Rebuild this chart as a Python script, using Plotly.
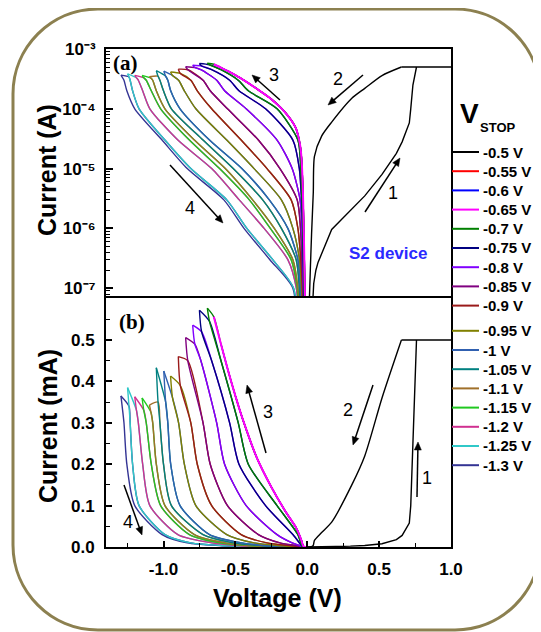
import math
import plotly.graph_objects as go

# browser page has an 8 px body margin: the figure is drawn 8 px right/down
OFF = 8
FW, FH = 541 - OFF, 632 - OFF

# ---------------- data ----------------
LEGEND_LABELS = ["-0.5 V", "-0.55 V", "-0.6 V", "-0.65 V", "-0.7 V", "-0.75 V", "-0.8 V",
                 "-0.85 V", "-0.9 V", "-0.95 V", "-1 V", "-1.05 V", "-1.1 V", "-1.15 V",
                 "-1.2 V", "-1.25 V", "-1.3 V"]
V_STOP = [-0.5, -0.55, -0.6, -0.65, -0.7, -0.75, -0.8, -0.85, -0.9, -0.95, -1.0,
          -1.05, -1.1, -1.15, -1.2, -1.25, -1.3]
COLORS = ["#000000", "#ff0000", "#0000ff", "#ff00ff", "#008000", "#000080", "#8000ff",
          "#800080", "#9a1a1a", "#808000", "#3060b0", "#008080", "#a0702a", "#20c820",
          "#d03090", "#30c8c8", "#343494"]

# low-resistance path (no reset yet), current in mA
LRS_V = [0.0, -0.015, -0.022, -0.03, -0.04, -0.05, -0.08, -0.15, -0.25, -0.35, -0.45,
         -0.5, -0.55, -0.6, -0.65]
LRS_I = [1e-6, 5e-5, 5e-4, 0.004, 0.015, 0.025, 0.048, 0.085, 0.145, 0.215, 0.31,
         0.365, 0.425, 0.49, 0.556]

# positive sweep of the first cycle, mA: set branch (1) with compliance, then branch (2)
SET_V = [0.0, 0.035, 0.045, 0.06, 0.075, 0.17, 0.30, 0.40, 0.52, 0.62, 0.66, 0.71, 0.72,
         0.735, 0.76, 1.0, 0.655]
SET_I = [1e-6, 5e-5, 1.2e-4, 2e-4, 2.7e-4, 9.6e-4, 0.002, 0.0035, 0.008, 0.018, 0.028,
         0.058, 0.10, 0.25, 0.5, 0.5, 0.5]
BR2_V = [0.655, 0.52, 0.40, 0.31, 0.17, 0.10, 0.05, 0.042, 0.03, 0.016, 0.008, 0.0]
BR2_I = [0.5, 0.36, 0.22, 0.15, 0.06, 0.035, 0.016, 0.004, 8e-4, 8e-5, 1e-5, 1e-6]

# reset sweeps -0.7 ... -1.3 V: peak, first point after reset, return branch
PEAK_V = [-0.695, -0.75, -0.797, -0.846, -0.897, -0.951, -0.998, -1.05, -1.098, -1.149,
          -1.2, -1.25, -1.296]
PEAK_I = [0.577, 0.572, 0.536, 0.506, 0.46, 0.413, 0.425, 0.433, 0.343, 0.36, 0.363,
          0.385, 0.365]
DROP_V = [-0.68, -0.735, -0.782, -0.831, -0.883, -0.937, -0.985, -1.038, -1.087, -1.137,
          -1.188, -1.24, -1.286]
DROP_I = [0.545, 0.52, 0.49, 0.45, 0.39, 0.36, 0.35, 0.35, 0.325, 0.33, 0.33, 0.34, 0.335]

I_LEVELS = [0.45, 0.3, 0.2, 0.1, 0.03, 0.01, 0.003, 0.001, 3e-4, 1e-4, 1e-5]
V_AT_0_45 = [-0.60, -0.665, -0.74, None, None, None, None, None, None, None, None, None, None]
V_AT_0_3 = [-0.48, -0.54, -0.63, -0.725, -0.81, -0.895, -0.97, -1.025, -1.075, -1.12,
            -1.175, -1.232, -1.275]
V_AT_0_2 = [-0.41, -0.475, -0.575, -0.675, -0.765, -0.855, -0.95, -1.0, -1.05, -1.085,
            -1.145, -1.215, -1.255]
V_AT_0_1 = [-0.21, -0.29, -0.425, -0.555, -0.665, -0.775, -0.885, -0.945, -0.99, -1.02,
            -1.095, -1.17, -1.20]
V_AT_0_03 = [-0.065, -0.10, -0.21, -0.34, -0.46, -0.56, -0.68, -0.725, -0.785, -0.82,
             -0.90, -0.99, -1.01]
V_AT_0_01 = [-0.045, -0.055, -0.105, -0.19, -0.28, -0.37, -0.455, -0.515, -0.57, -0.61,
             -0.665, -0.81, -0.835]
V_AT_3E_3 = [-0.036, -0.04, -0.05, -0.07, -0.112, -0.18, -0.264, -0.31, -0.38, -0.403,
             -0.473, -0.56, -0.58]
V_AT_1E_3 = [-0.03, -0.032, -0.037, -0.047, -0.065, -0.10, -0.135, -0.18, -0.229, -0.257,
             -0.30, -0.42, -0.44]
V_AT_3E_4 = [-0.026, -0.028, -0.031, -0.037, -0.045, -0.054, -0.065, -0.077, -0.10, -0.112,
             -0.135, -0.24, -0.26]
V_AT_1E_4 = [-0.022, -0.024, -0.026, -0.03, -0.034, -0.04, -0.048, -0.055, -0.065, -0.07,
             -0.076, -0.095, -0.10]
V_AT_1E_5 = [-0.016, -0.017, -0.019, -0.021, -0.023, -0.026, -0.03, -0.033, -0.037, -0.04,
             -0.045, -0.06, -0.065]
V_AT_LEVEL = [V_AT_0_45, V_AT_0_3, V_AT_0_2, V_AT_0_1, V_AT_0_03, V_AT_0_01, V_AT_3E_3,
              V_AT_1E_3, V_AT_3E_4, V_AT_1E_4, V_AT_1E_5]

LOG_TICKS = [1e-7, 1e-6, 1e-5, 1e-4, 1e-3]
LOG_TICKTEXT = ["10\u207b\u2077", "10\u207b\u2076", "10\u207b\u2075", "10\u207b\u2074",
                "10\u207b\u00b3"]
X_TICKS = [-1.0, -0.5, 0.0, 0.5, 1.0]
X_TICKTEXT = ["-1.0", "-0.5", "0.0", "0.5", "1.0"]
Y2_TICKS = [0.0, 0.1, 0.2, 0.3, 0.4, 0.5]
Y2_TICKTEXT = ["0.0", "0.1", "0.2", "0.3", "0.4", "0.5"]

# ---------------- build sweep segments ----------------
def return_branch(j):
    vs, cs = [PEAK_V[j], DROP_V[j]], [PEAK_I[j], DROP_I[j]]
    for lev, arr in zip(I_LEVELS, V_AT_LEVEL):
        v = arr[j]
        if v is not None and lev < DROP_I[j]:
            vs.append(v)
            cs.append(lev)
    vs.append(0.0)
    cs.append(1e-6)
    return vs, cs

segments = {}   # loop index -> list of (V, I, shape)
for k in range(4):
    vs = [v for v in LRS_V if v >= V_STOP[k] - 1e-9]
    cs = LRS_I[:len(vs)]
    segs = [(vs + vs[::-1], cs + cs[::-1], "spline")]
    if k == 0:
        segs = [(SET_V, SET_I, "linear"), (BR2_V, BR2_I, "spline")] + segs
    segments[k] = segs

prev_v, prev_i = LRS_V[:], LRS_I[:]
for j in range(len(PEAK_V)):
    rv, ri = return_branch(j)
    up = (prev_v + [PEAK_V[j]], prev_i + [PEAK_I[j]], "spline")
    segments[4 + j] = [up, (rv, ri, "spline")]
    # next sweep starts on this return branch (without the peak)
    prev_v, prev_i = rv[1:][::-1], ri[1:][::-1]

# drawing order: -0.5, -0.55, -0.6 first, then -1.3 ... -0.7, magenta (-0.65) on top
order = [0, 1, 2] + list(range(16, 3, -1)) + [3]

fig = go.Figure()
for k in order:
    for vs, cs, shape in segments[k]:
        line = dict(color=COLORS[k], width=2.0 if k == 3 else 1.4, shape=shape)
        if shape == "spline":
            line["smoothing"] = 0.7
        fig.add_trace(go.Scatter(
            x=vs, y=[c * 1e-3 for c in cs], mode="lines", xaxis="x", yaxis="y",
            line=line, name=LEGEND_LABELS[k], showlegend=False, hoverinfo="skip"))
        fig.add_trace(go.Scatter(
            x=vs, y=cs, mode="lines", xaxis="x2", yaxis="y2",
            line=line, name=LEGEND_LABELS[k], showlegend=False, hoverinfo="skip"))

# ---------------- layout ----------------
def px(x):
    return (x - OFF) / FW

def py(y):
    return 1 - (y - OFF) / FH

FONT = "Liberation Sans"
tickfont = dict(family=FONT, size=17, color="black", weight="bold")
XD = [px(106), px(451)]
minor_log = [m * 10.0 ** d for d in range(-8, -3) for m in range(2, 10)
             if 7.4e-8 < m * 10.0 ** d < 1e-3]
axis_common = dict(showline=True, linecolor="black", linewidth=2, mirror=True,
                   showgrid=False, zeroline=False, automargin=False)

fig.update_layout(
    width=FW, height=FH, margin=dict(l=0, r=0, t=0, b=0, pad=0, autoexpand=False),
    paper_bgcolor="white", plot_bgcolor="white", showlegend=False,
    xaxis=dict(domain=XD, anchor="y", range=[-1.4, 1.0], showticklabels=False, ticks="",
               **axis_common),
    yaxis=dict(domain=[py(296), py(49)], anchor="x", type="log", range=[-7.13, -3.0],
               tickvals=LOG_TICKS, ticktext=LOG_TICKTEXT, ticks="inside", ticklen=7,
               tickwidth=1.5, tickcolor="black", tickfont=tickfont, ticklabelstandoff=5,
               minor=dict(tickvals=minor_log, ticks="inside", ticklen=4, tickwidth=1,
                          tickcolor="black"),
               **axis_common),
    xaxis2=dict(domain=XD, anchor="y2", range=[-1.4, 1.0], tickvals=X_TICKS,
                ticktext=X_TICKTEXT, ticks="inside", ticklen=6, tickwidth=1.5,
                tickcolor="black", tickfont=tickfont, ticklabelstandoff=6,
                minor=dict(tickvals=[-1.25, -0.75, -0.25, 0.25, 0.75], ticks="inside",
                           ticklen=4, tickwidth=1, tickcolor="black"),
                **axis_common),
    yaxis2=dict(domain=[py(547), py(298)], anchor="x2", range=[0, 0.6015],
                tickvals=Y2_TICKS, ticktext=Y2_TICKTEXT, ticks="inside", ticklen=6,
                tickwidth=1.5, tickcolor="black", tickfont=tickfont, ticklabelstandoff=6,
                minor=dict(tickvals=[0.05, 0.15, 0.25, 0.35, 0.45, 0.55], ticks="inside",
                           ticklen=4, tickwidth=1, tickcolor="black"),
                **axis_common),
)

# rounded frame
L, T, R, B, r = 13, 9, 540, 630, 85
kk = 0.5523 * r
def P(x, y):
    return f"{px(x):.5f},{py(y):.5f}"
path = (f"M {P(L + r, T)} L {P(R - r, T)} C {P(R - r + kk, T)} {P(R, T + r - kk)} {P(R, T + r)} "
        f"L {P(R, B - r)} C {P(R, B - r + kk)} {P(R - r + kk, B)} {P(R - r, B)} "
        f"L {P(L + r, B)} C {P(L + r - kk, B)} {P(L, B - r + kk)} {P(L, B - r)} "
        f"L {P(L, T + r)} C {P(L, T + r - kk)} {P(L + r - kk, T)} {P(L + r, T)} Z")
fig.add_shape(type="path", path=path, xref="paper", yref="paper",
              line=dict(color="#8c8050", width=3), layer="below")

def text(x, y, s, size, weight="normal", family=FONT, color="black", angle=0,
         xanchor="center"):
    fig.add_annotation(x=px(x), y=py(y), xref="paper", yref="paper", text=s,
                       showarrow=False, textangle=angle, xanchor=xanchor, yanchor="middle",
                       font=dict(family=family, size=size, color=color, weight=weight))

def arrow(hx, hy, tx, ty):
    dx, dy = hx - tx, hy - ty
    ln = math.hypot(dx, dy)
    ux, uy = dx / ln, dy / ln
    bx, by = hx - 8 * ux, hy - 8 * uy
    fig.add_shape(type="line", xref="paper", yref="paper", x0=px(tx), y0=py(ty),
                  x1=px(bx + 2 * ux), y1=py(by + 2 * uy), line=dict(color="black", width=1.5))
    lx, ly = bx - 3.5 * uy, by + 3.5 * ux
    rx, ry = bx + 3.5 * uy, by - 3.5 * ux
    fig.add_shape(type="path", xref="paper", yref="paper",
                  path=f"M {P(hx, hy)} L {P(lx, ly)} L {P(rx, ry)} Z",
                  fillcolor="black", line=dict(color="black", width=0.5))

# axis titles
text(277, 598, "Voltage (V)", 25, "bold")
text(47, 170, "Current (A)", 25, "bold", angle=-90)
text(48, 426, "Current (mA)", 25, "bold", angle=-90)

# panel labels
text(125, 63, "(a)", 21, "bold", family="Liberation Serif")
text(132, 322, "(b)", 21, "bold", family="Liberation Serif")
text(388, 254, "S2 device", 17, "bold", color="#2a2aff")

# legend (title, line samples and labels)
text(469, 113, "V", 28, "bold")
text(498, 128, "STOP", 13, "bold")
for i, lab in enumerate(LEGEND_LABELS):
    yc = 152 + 19.2 * i + (6 if i >= 9 else 0)
    fig.add_shape(type="line", xref="paper", yref="paper", x0=px(452), x1=px(479),
                  y0=py(yc), y1=py(yc), line=dict(color=COLORS[i], width=2))
    text(481, yc, lab, 15, "bold", xanchor="left")

# sweep-direction arrows and numbers
arrow(252, 75, 280, 100); text(274, 75, "3", 18)
arrow(328, 105, 363, 75); text(338, 79, "2", 18)
arrow(400, 158, 365, 212); text(393, 193, "1", 18)
arrow(223, 223, 170, 165); text(190, 208, "4", 18)
arrow(247, 385, 266, 453); text(268, 412, "3", 18)
arrow(353, 445, 373, 385); text(348, 410, "2", 18)
arrow(418, 442, 417, 497); text(427, 478, "1", 18)
arrow(142, 535, 124, 485); text(128, 522, "4", 18)

fig.write_html("out.html")
